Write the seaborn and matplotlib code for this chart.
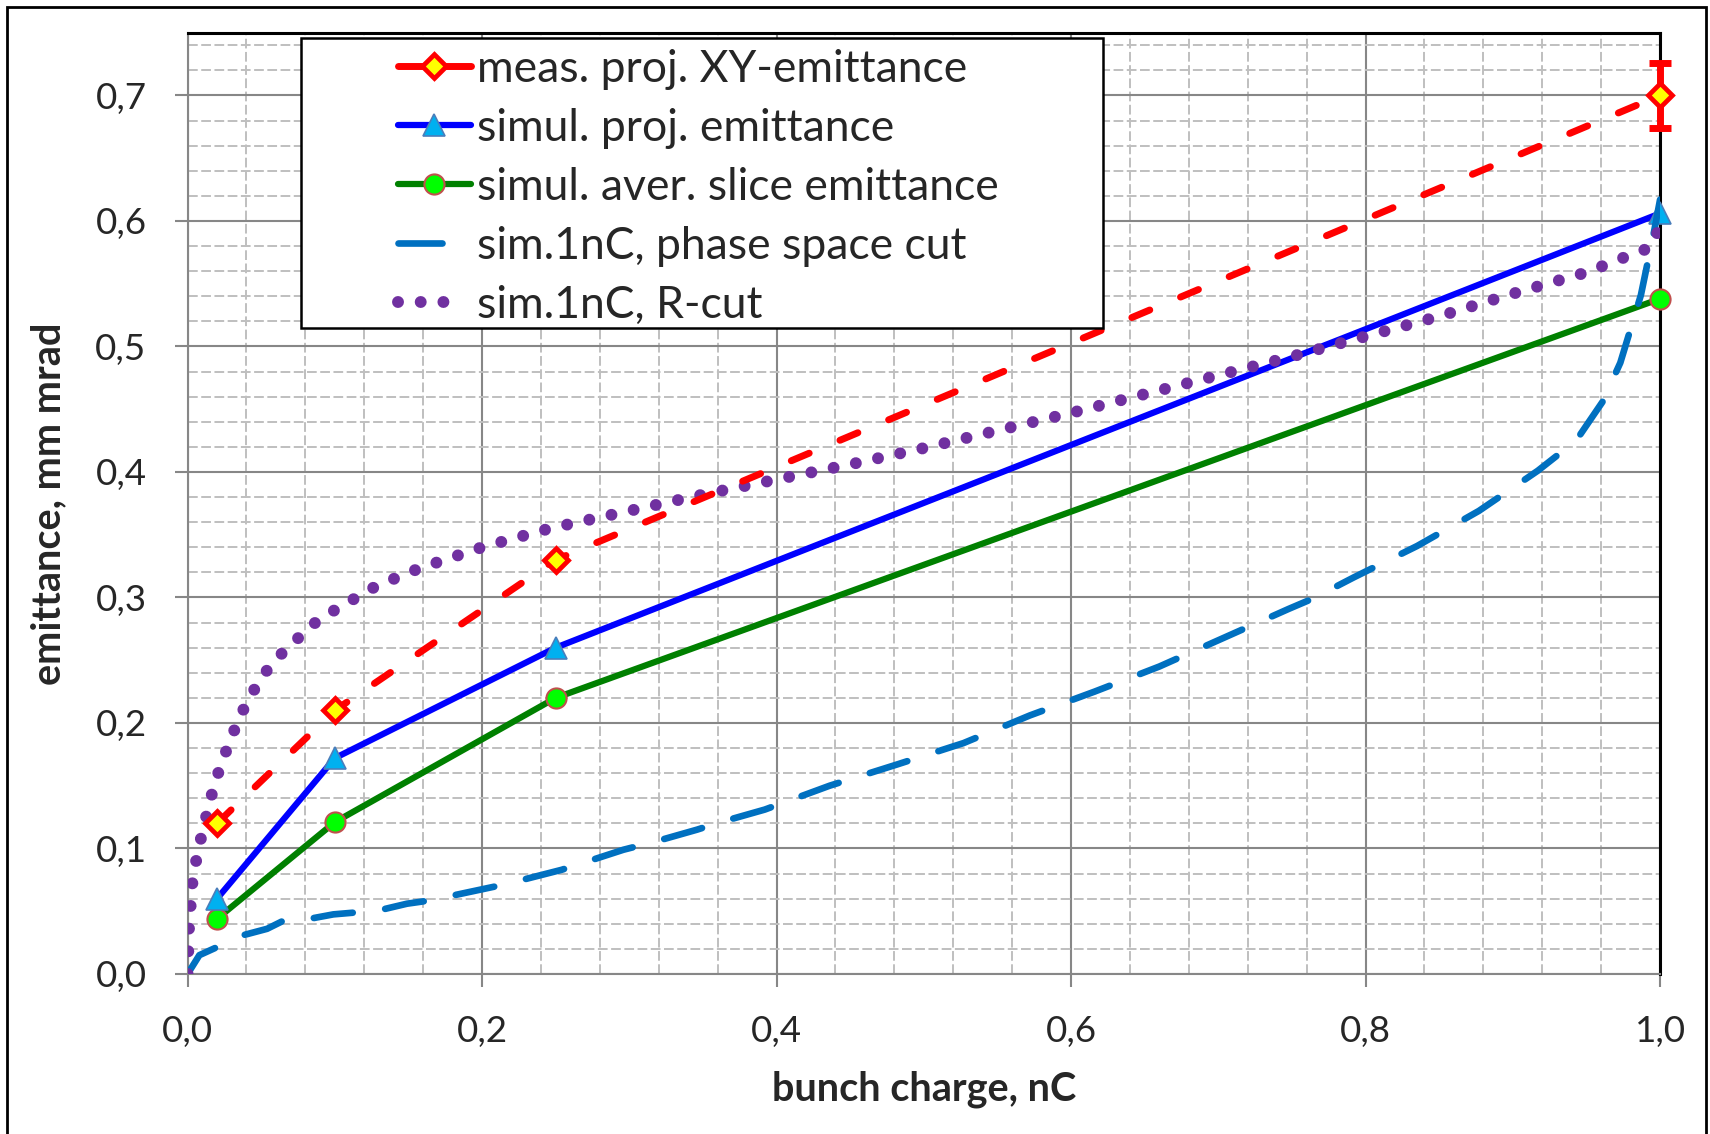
import matplotlib
matplotlib.use('Agg')
import matplotlib.pyplot as plt
from matplotlib.lines import Line2D
from matplotlib.patches import Rectangle
from matplotlib.ticker import MultipleLocator, FuncFormatter
import seaborn as sns

# measured and simulated points (bunch charge, nC)
charge = [0.02, 0.1, 0.25, 1.0]
meas_emit = [0.12, 0.21, 0.33, 0.70]
meas_err = [0.0, 0.0, 0.0, 0.026]
simul_proj = [0.06, 0.172, 0.26, 0.606]
simul_slice = [0.044, 0.121, 0.22, 0.538]

# sim. 1nC, phase space cut
cut_q = [0, 0.008, 0.023, 0.038, 0.054, 0.066, 0.083, 0.099, 0.114, 0.131, 0.149,
         0.161, 0.178, 0.208, 0.224, 0.254, 0.296, 0.316, 0.346, 0.362, 0.392, 0.436,
         0.482, 0.527, 0.572, 0.616, 0.66, 0.704, 0.748, 0.764, 0.792, 0.835, 0.877,
         0.917, 0.943, 0.961, 0.973, 0.987, 0.996, 1.0]
cut_emit = [0, 0.015, 0.023, 0.031, 0.036, 0.043, 0.044, 0.0475, 0.049, 0.051, 0.056,
            0.058, 0.062, 0.0695, 0.074, 0.083, 0.099, 0.105, 0.115, 0.121, 0.131, 0.150,
            0.167, 0.184, 0.206, 0.225, 0.245, 0.268, 0.291, 0.299, 0.316, 0.341, 0.369,
            0.401, 0.425, 0.456, 0.487, 0.541, 0.592, 0.617]

# sim. 1nC, R-cut
rcut_q = [0, 0.001, 0.0035, 0.0066, 0.01, 0.014, 0.018, 0.023, 0.029, 0.035, 0.042,
          0.05, 0.06, 0.072, 0.083, 0.1, 0.128, 0.157, 0.2, 0.246, 0.3, 0.35, 0.4,
          0.45, 0.5, 0.55, 0.6, 0.65, 0.7, 0.75, 0.8, 0.85, 0.9, 0.95, 0.978, 0.994, 1.0]
rcut_emit = [0, 0.038, 0.076, 0.095, 0.113, 0.132, 0.15, 0.168, 0.186, 0.204, 0.22,
             0.236, 0.251, 0.264, 0.277, 0.29, 0.309, 0.323, 0.34, 0.355, 0.369, 0.382,
             0.394, 0.406, 0.419, 0.433, 0.447, 0.462, 0.477, 0.492, 0.508, 0.524, 0.542,
             0.559, 0.572, 0.579, 0.596]

labels = ['meas. proj. XY-emittance', 'simul. proj. emittance',
          'simul. aver. slice emittance', 'sim.1nC, phase space cut', 'sim.1nC, R-cut']

RED = '#FF0000'
BLUE = '#0000FF'
GREEN = '#008000'
CUT = '#0070C0'
PURPLE = '#7030A0'
GRID_MAJ = '#878787'
GRID_MIN = '#BFBFBF'

sns.set_style('white')
plt.rcParams['font.family'] = ['Lato', 'DejaVu Sans']

fig = plt.figure(figsize=(17.1, 11.34), dpi=100)
ax = fig.add_axes([0.1097, 0.1411, 0.9708 - 0.1097, 0.9712 - 0.1411])

red_ls = (0, (2.8, 4.8))
cut_ls = (0, (5.9, 4.9))
dot_ls = (0, (0.001, 1.9))

# marker styles shared by plot and legend
red_kw = dict(color=RED, lw=5, marker='D', ms=12.5, mfc='#FFFF00', mec=RED, mew=3.4)
blue_kw = dict(color=BLUE, lw=4.5, marker='^', ms=16, mfc='#00B0F0', mec='#4A7EBB', mew=1.2)
green_kw = dict(color=GREEN, lw=4.5, marker='o', ms=14.5, mfc='#00FF00', mec='#C0504D', mew=1.5)

sns.lineplot(x=charge, y=simul_slice, ax=ax, sort=False, zorder=3, clip_on=False, **green_kw)
sns.lineplot(x=charge, y=simul_proj, ax=ax, sort=False, zorder=3, clip_on=False, **blue_kw)
sns.lineplot(x=cut_q, y=cut_emit, ax=ax, color=CUT, lw=4.8, linestyle=cut_ls,
             dash_capstyle='round', sort=False, zorder=3)
sns.lineplot(x=rcut_q, y=rcut_emit, ax=ax, color=PURPLE, lw=8.6, linestyle=dot_ls,
             dash_capstyle='round', sort=False, zorder=3)
ax.errorbar(charge[-1:], meas_emit[-1:], yerr=meas_err[-1:], fmt='none',
            ecolor=RED, elinewidth=5, capsize=8, capthick=5, zorder=3.4, clip_on=False)
sns.lineplot(x=charge, y=meas_emit, ax=ax, linestyle=red_ls, dash_capstyle='round',
             sort=False, zorder=3.5, clip_on=False, **red_kw)

ax.set_xlim(0, 1.0)
ax.set_ylim(0, 0.75)
ax.xaxis.set_major_locator(MultipleLocator(0.2))
ax.xaxis.set_minor_locator(MultipleLocator(0.04))
ax.yaxis.set_major_locator(MultipleLocator(0.1))
ax.yaxis.set_minor_locator(MultipleLocator(0.02))
comma = FuncFormatter(lambda v, p: f'{v:.1f}'.replace('.', ','))
ax.xaxis.set_major_formatter(comma)
ax.yaxis.set_major_formatter(comma)

ax.grid(which='major', color=GRID_MAJ, lw=1.5, ls='-')
ax.grid(which='minor', color=GRID_MIN, lw=1.4, ls=(0, (5, 1.8)))
ax.set_axisbelow(True)

ax.tick_params(which='major', direction='out', length=9.5, width=1.5,
               color=GRID_MAJ, pad=20, labelsize=26.5, bottom=True, left=True)
ax.tick_params(which='minor', length=0)
for s in ['left', 'bottom']:
    ax.spines[s].set_color(GRID_MAJ)
    ax.spines[s].set_linewidth(1.5)
for s in ['top', 'right']:
    ax.spines[s].set_color('black')
    ax.spines[s].set_linewidth(2.2)

ax.set_xlabel('bunch charge, nC', fontsize=28.5, fontweight='bold', labelpad=16)
ax.set_ylabel('emittance, mm mrad', fontsize=28.5, fontweight='bold', labelpad=20)

# legend box (white, drawn over the lines)
ax.add_patch(Rectangle((0.077, 0.515), 0.6215 - 0.077, 0.746 - 0.515,
                       facecolor='white', edgecolor='black', lw=1.8, zorder=4))
handles = [
    Line2D([], [], solid_capstyle='round', **red_kw),
    Line2D([], [], solid_capstyle='round', **blue_kw),
    Line2D([], [], solid_capstyle='round', **green_kw),
    Line2D([], [], color=CUT, lw=4.8, linestyle=(0, (6.6, 20)), dash_capstyle='round'),
    Line2D([], [], color=PURPLE, lw=8.6, linestyle=(0, (0.001, 1.9, 0.001, 1.9, 0.001, 20)),
           dash_capstyle='round'),
]
leg = ax.legend(handles, labels, loc='upper left', bbox_to_anchor=(0.1429, 0.983),
                frameon=False, fontsize=32, handlelength=1.64, handletextpad=0.14,
                labelspacing=0.405, borderpad=0, borderaxespad=0)
leg.set_zorder(5)

# outer chart border
fig.patches.append(Rectangle((7 / 1710, -0.05), (1706 - 7) / 1710, 1.05 - 7 / 1134,
                             transform=fig.transFigure, fill=False,
                             edgecolor='black', lw=2))

fig.savefig('out.png', dpi=100)
